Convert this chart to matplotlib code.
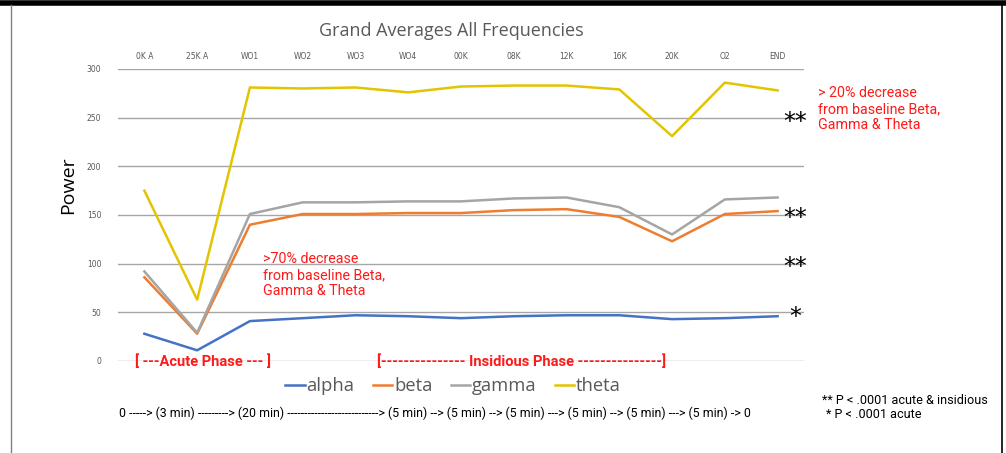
import matplotlib.pyplot as plt
from matplotlib.lines import Line2D

# data
stages = ["0K A", "25K A", "WO1", "WO2", "WO3", "WO4", "00K", "08K", "12K", "16K", "20K", "O2", "END"]
alpha = [28, 11, 41, 44, 47, 46, 44, 46, 47, 47, 43, 44, 46]
beta = [86, 28, 140, 151, 151, 152, 152, 155, 156, 148, 123, 151, 154]
gamma = [92, 29, 151, 163, 163, 164, 164, 167, 168, 158, 130, 166, 168]
theta = [175, 63, 281, 280, 281, 276, 282, 283, 283, 279, 231, 286, 278]
yticks = [0, 50, 100, 150, 200, 250, 300]

series = [("alpha", alpha, "#4472C4"), ("beta", beta, "#ED7D31"),
          ("gamma", gamma, "#A5A5A5"), ("theta", theta, "#E3C400")]

fig = plt.figure(figsize=(10.06, 4.53), dpi=100)
ax = fig.add_axes([118 / 1006, 92 / 453, 686 / 1006, 292 / 453])

x = list(range(len(stages)))
for name, vals, col in series:
    ax.plot(x, vals, color=col, lw=1.8, label=name, zorder=3)

ax.set_xlim(-0.5, len(stages) - 0.5)
ax.set_ylim(0, 300)
ax.set_yticks(yticks)
ax.set_xticks(x)
ax.set_xticklabels(stages)
ax.xaxis.tick_top()
ax.tick_params(axis="both", length=0, labelsize=5.5, colors="#595959")
ax.tick_params(axis="x", pad=6)
ax.tick_params(axis="y", pad=12)
ax.grid(axis="y", color="#A6A6A6", lw=1)
ax.set_axisbelow(True)
for s in ax.spines.values():
    s.set_visible(False)

fig.text(451 / 1006, 1 - 31 / 453, "Grand Averages All Frequencies", ha="center", va="center",
         fontsize=13, color="#595959", family="Open Sans")
fig.text(68 / 1006, 1 - 185 / 453, "Power", rotation=90, ha="center", va="center",
         fontsize=14, color="black", family="Open Sans")

leg = ax.legend(loc="center", bbox_to_anchor=(453 / 1006, 1 - 386 / 453), bbox_transform=fig.transFigure,
                ncol=4, frameon=False, handlelength=1.05, handletextpad=0.1, columnspacing=1.0,
                prop={"family": "Open Sans", "size": 13.2})
for t in leg.get_texts():
    t.set_color("#595959")

red = "#FF1A1A"
ax_text = dict(family="Roboto", color=red, fontsize=10.3, linespacing=1.2)
fig.text(818 / 1006, 1 - 109 / 453, "> 20% decrease\nfrom baseline Beta,\nGamma & Theta",
         ha="left", va="center", **ax_text)
fig.text(263 / 1006, 1 - 275 / 453, ">70% decrease\nfrom baseline Beta,\nGamma & Theta",
         ha="left", va="center", **ax_text)

for yy, s in [(122, "**"), (218, "**"), (267, "**"), (317, "*")]:
    fig.text(795 / 1006, 1 - yy / 453, s, ha="center", va="center", fontsize=17, color="black", family="DejaVu Sans")

fig.text(135 / 1006, 1 - 362 / 453, "[ ---Acute Phase --- ]", ha="left", va="center",
         color=red, fontsize=10.5, fontweight="bold", family="Roboto")
fig.text(377 / 1006, 1 - 362 / 453, "[--------------- Insidious Phase ---------------]", ha="left", va="center",
         color=red, fontsize=10.5, fontweight="bold", family="Roboto")

fig.text(119 / 1006, 1 - 413 / 453,
         "0 -----> (3 min) ---------> (20 min) ---------------------------> (5 min) --> (5 min) --> (5 min) ---> (5 min) --> (5 min) ---> (5 min) -> 0",
         ha="left", va="center", fontsize=8.9, color="black", family="Roboto")
fig.text(822 / 1006, 1 - 400 / 453, "** P < .0001 acute & insidious", ha="left", va="center",
         fontsize=9.1, color="black", family="Roboto")
fig.text(826 / 1006, 1 - 414 / 453, "* P < .0001 acute", ha="left", va="center",
         fontsize=9.1, color="black", family="Roboto")

# frame lines of the screenshot
fig.add_artist(Line2D([0, 1], [1 - 3 / 453, 1 - 3 / 453], color="black", lw=4))
fig.add_artist(Line2D([11 / 1006, 11 / 1006], [0, 1 - 5 / 453], color="#808080", lw=1))
fig.add_artist(Line2D([1002 / 1006, 1002 / 1006], [0, 1 - 5 / 453], color="black", lw=1.2))

fig.savefig("out.png", dpi=100)
